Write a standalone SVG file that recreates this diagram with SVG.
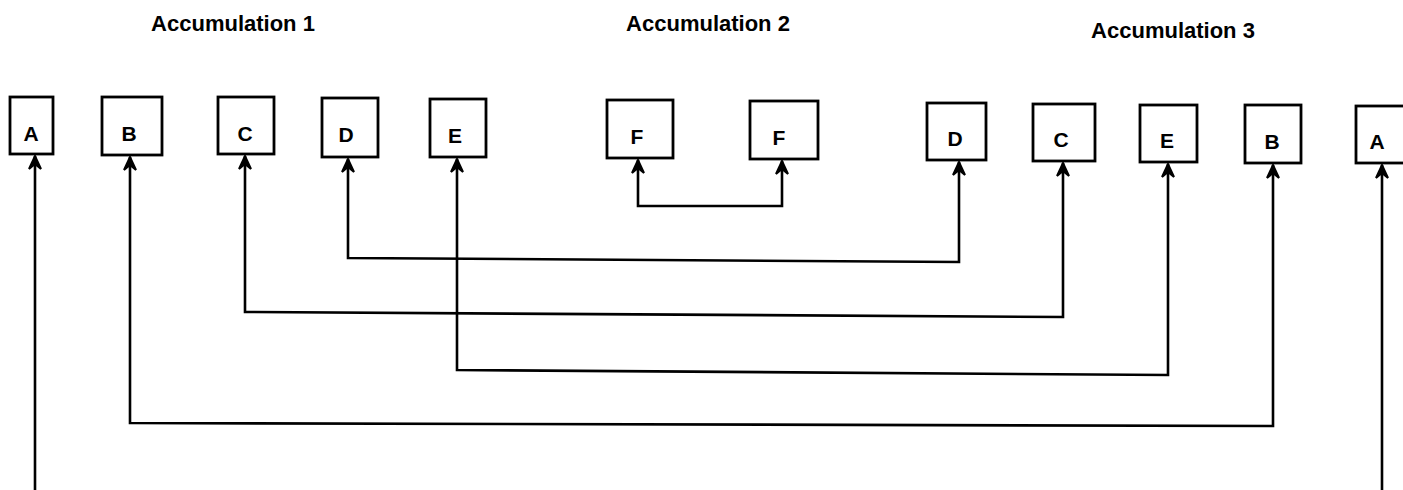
<svg xmlns="http://www.w3.org/2000/svg" width="1403" height="490" viewBox="0 0 1403 490">
<style>
.box{fill:#fff;stroke:#000;stroke-width:2.8}
.lbl{font-family:"Liberation Sans",Arial,sans-serif;font-weight:bold;font-size:21px;text-anchor:middle;fill:#000}
.title{font-family:"Liberation Sans",Arial,sans-serif;font-weight:bold;font-size:22px;text-anchor:middle;fill:#000}
.con{fill:none;stroke:#000;stroke-width:2.6;stroke-linejoin:miter}
</style>
<defs>
<marker id="ah" markerUnits="userSpaceOnUse" viewBox="-14 -7 16 14" markerWidth="16" markerHeight="14" refX="0" refY="0" orient="auto-start-reverse">
<path d="M-13,-6 L0,0 L-13,6 L-8,0 Z" fill="#000" stroke="#000" stroke-width="2" stroke-linejoin="miter"/>
</marker>
</defs>
<g id="titles">
<text class="title" x="233" y="31">Accumulation 1</text>
<text class="title" x="708" y="31">Accumulation 2</text>
<text class="title" x="1173" y="38">Accumulation 3</text>
</g>
<g id="node-A1"><rect class="box" x="10" y="97" width="43" height="57"/><text class="lbl" x="31" y="141">A</text></g>
<g id="node-B1"><rect class="box" x="102" y="97" width="60" height="58"/><text class="lbl" x="129" y="141">B</text></g>
<g id="node-C1"><rect class="box" x="218" y="97" width="56" height="57"/><text class="lbl" x="245" y="141">C</text></g>
<g id="node-D1"><rect class="box" x="322" y="98" width="56" height="59"/><text class="lbl" x="346" y="142">D</text></g>
<g id="node-E1"><rect class="box" x="430" y="99" width="56" height="58"/><text class="lbl" x="455" y="143">E</text></g>
<g id="node-F1"><rect class="box" x="607" y="100" width="66" height="58"/><text class="lbl" x="637" y="144">F</text></g>
<g id="node-F2"><rect class="box" x="750" y="101" width="68" height="58"/><text class="lbl" x="779" y="145">F</text></g>
<g id="node-D2"><rect class="box" x="927" y="103" width="59" height="57"/><text class="lbl" x="955" y="146">D</text></g>
<g id="node-C2"><rect class="box" x="1033" y="104" width="62" height="57"/><text class="lbl" x="1061" y="147">C</text></g>
<g id="node-E2"><rect class="box" x="1140" y="105" width="57" height="57"/><text class="lbl" x="1167" y="148">E</text></g>
<g id="node-B2"><rect class="box" x="1245" y="105" width="56" height="58"/><text class="lbl" x="1272" y="149">B</text></g>
<g id="node-A2"><rect class="box" x="1356" y="106" width="52" height="57"/><text class="lbl" x="1377" y="149">A</text></g>
<g id="connectors">
<path class="con" d="M35,490 L35,156" marker-end="url(#ah)"/>
<path class="con" d="M1382,490 L1382,165" marker-end="url(#ah)"/>
<path class="con" d="M638,160 L638,206 L782,206 L782,161" marker-start="url(#ah)" marker-end="url(#ah)"/>
<path class="con" d="M348,159 L348,258 L959,262 L959,162" marker-start="url(#ah)" marker-end="url(#ah)"/>
<path class="con" d="M245,156 L245,312 L1063,317 L1063,163" marker-start="url(#ah)" marker-end="url(#ah)"/>
<path class="con" d="M457,159 L457,370 L1168,375 L1168,164" marker-start="url(#ah)" marker-end="url(#ah)"/>
<path class="con" d="M130,157 L130,423 L1273,426 L1273,165" marker-start="url(#ah)" marker-end="url(#ah)"/>
</g>
</svg>
